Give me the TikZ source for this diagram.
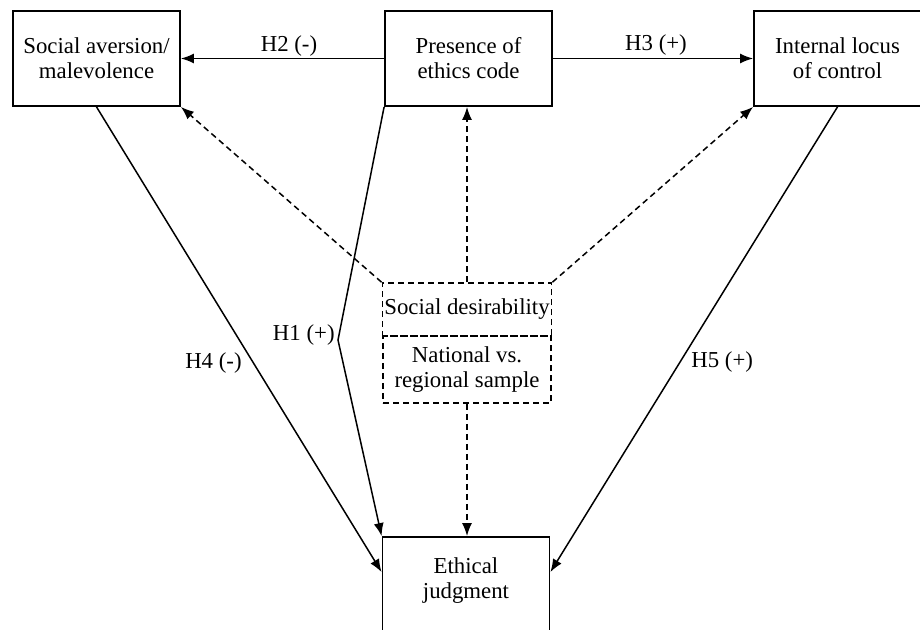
\documentclass[tikz,border=0pt]{standalone}
\usepackage{fontspec}
\setmainfont{Liberation Serif}
\usepackage{tikz}
\usetikzlibrary{arrows.meta,positioning,calc}

\begin{document}
\begin{tikzpicture}[x=0.5pt, y=-0.5pt,
    font=\fontsize{11.4pt}{12.5pt}\selectfont,
    box/.style={draw, line width=0.9pt, minimum width=83.5pt, minimum height=47.5pt, align=center, inner sep=1pt},
    ctrl/.style={draw, line width=0.8pt, dash pattern=on 3pt off 2pt, minimum width=84pt, align=center, inner sep=1pt},
    arr/.style={line width=0.75pt, -{Latex[length=6.5pt, width=5pt]}},
    darr/.style={arr, dash pattern=on 3pt off 2pt},
    hyp/.style={inner sep=1pt}]
  \useasboundingbox (0,0) rectangle (920,630);
  % constructs
  \node[box] (sa) at (96.5,58.5) {Social aversion/\\malevolence};
  \node[box] (pc) at (468.5,58.5) {Presence of\\ethics code};
  \node[box] (il) at (837.5,58.5) {Internal locus\\of control};
  \node[box, minimum height=50pt, text depth=9pt] (ej) at (466,587) {Ethical\\judgment};
  % controls
  \node[ctrl, minimum height=26.5pt] (sd) at (467,309.5) {Social desirability};
  \node[ctrl, minimum height=33.5pt] (ns) at (467,369.5) {National vs.\\regional sample};
  \coordinate (kink) at (338,340);
  % hypotheses
  \draw[arr] (pc.west) -- (sa.east);
  \draw[arr] (pc.east) -- (il.west);
  \draw[arr] (pc.south west) -- (kink) -- (ej.north west);
  \draw[arr] (sa.south) -- ($(ej.north west)+(0,36)$);
  \draw[arr] (il.south) -- ($(ej.north east)+(0,36)$);
  \node[hyp] (h2) at (289,46) {H2 (-)};
  \node[hyp] (h3) at (656,45) {H3 (+)};
  \node[hyp, anchor=east] (h1) at (337,335) {H1 (+)};
  \node[hyp, anchor=east] (h4) at (244,363) {H4 (-)};
  \node[hyp, anchor=west] (h5) at (689,362) {H5 (+)};
  % control paths
  \draw[darr] (sd.north west) -- (sa.south east);
  \draw[darr] (sd.north east) -- (il.south west);
  \draw[darr] (sd.north) -- (sd.north |- pc.south);
  \draw[darr] (ns.south) -- (ns.south |- ej.north);
\end{tikzpicture}
\end{document}
